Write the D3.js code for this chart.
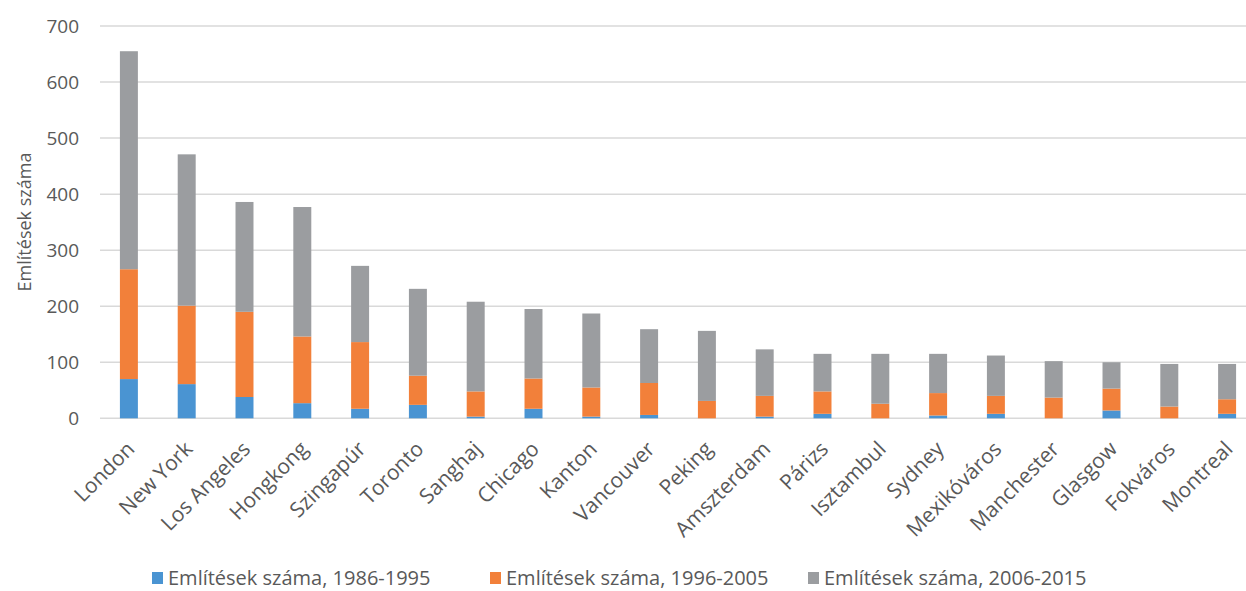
<!DOCTYPE html>
<html>
<head>
<meta charset="utf-8">
<script src="https://cdn.jsdelivr.net/npm/d3@7"></script>
<style>
  html, body { margin: 0; padding: 0; background: #fff; overflow: hidden; }
  svg { display: block; }
  text { font-family: "Open Sans", "Noto Sans", sans-serif; fill: #595959; }
</style>
</head>
<body>
<svg id="chart" width="1246" height="591"></svg>
<script>
const cities = ["London","New York","Los Angeles","Hongkong","Szingapúr","Toronto","Sanghaj","Chicago","Kanton","Vancouver","Peking","Amszterdam","Párizs","Isztambul","Sydney","Mexikóváros","Manchester","Glasgow","Fokváros","Montreal"];
const s1986 = [70, 61, 38, 27, 17, 24, 3, 17, 3, 6, 0, 3, 8, 0, 5, 8, 0, 14, 0, 8];
const s1996 = [196, 140, 152, 119, 119, 52, 45, 54, 52, 57, 31, 37, 40, 26, 40, 32, 37, 39, 21, 26];
const s2006 = [389, 270, 196, 231, 136, 155, 160, 124, 132, 96, 125, 83, 67, 89, 70, 72, 65, 47, 76, 63];
const seriesNames = ["Említések száma, 1986-1995", "Említések száma, 1996-2005", "Említések száma, 2006-2015"];
const seriesColors = ["#4A94D2", "#F2803A", "#9B9DA0"];
const yTicks = [0, 100, 200, 300, 400, 500, 600, 700];
const yTitle = "Említések száma";

(function () {
const svg = d3.select("#chart");
const pLeft = 100, pRight = 1256, pTop = 26, pBottom = 418.3;

const x = d3.scaleBand().domain(cities).range([pLeft, pRight]).paddingInner(0.689).paddingOuter(0.3445);
const y = d3.scaleLinear().domain([0, 700]).range([pBottom, pTop]);

// gridlines
svg.append("g").selectAll("line").data(yTicks).join("line")
  .attr("x1", pLeft).attr("x2", 1246)
  .attr("y1", d => y(d)).attr("y2", d => y(d))
  .attr("stroke", "#D9D9D9").attr("stroke-width", 1.5);

// y axis labels
const yAxis = d3.axisLeft(y).tickValues(yTicks).tickSize(0).tickPadding(0);
const gy = svg.append("g").attr("transform", `translate(79,0)`).call(yAxis);
gy.select(".domain").remove();
gy.selectAll("text").style("font-size", "19px").style("fill", "#595959")
  .style("font-family", "'Open Sans', sans-serif").attr("dy", "0.34em");

// y title
svg.append("text")
  .attr("transform", `translate(31,222) rotate(-90)`)
  .attr("text-anchor", "middle")
  .style("font-size", "18px")
  .text(yTitle);

// stacked data
const rows = cities.map((c, i) => ({ city: c, a: s1986[i], b: s1996[i], c: s2006[i] }));
const stacked = d3.stack().keys(["a", "b", "c"])(rows);

svg.append("g").selectAll("g").data(stacked).join("g")
  .attr("fill", (d, i) => seriesColors[i])
  .selectAll("rect").data(d => d).join("rect")
  .attr("x", d => x(d.data.city))
  .attr("width", x.bandwidth())
  .attr("y", d => y(d[1]))
  .attr("height", d => Math.max(0, y(d[0]) - y(d[1])));

// x axis labels
const xAxis = d3.axisBottom(x).tickSize(0).tickPadding(0);
const gx = svg.append("g").attr("transform", `translate(0,${pBottom})`).call(xAxis);
gx.select(".domain").remove();
gx.selectAll("text")
  .style("font-size", "21px").style("fill", "#595959")
  .style("font-family", "'Open Sans', sans-serif")
  .attr("text-anchor", "end")
  .attr("dy", "0")
  .attr("y", 0)
  .attr("transform", "translate(7,32) rotate(-45)");

// legend
const legendX = [152, 490, 808];
const lg = svg.append("g").selectAll("g").data(seriesNames).join("g")
  .attr("transform", (d, i) => `translate(${legendX[i]},578)`);
lg.append("rect").attr("x", 0).attr("y", -6).attr("width", 11).attr("height", 12)
  .attr("fill", (d, i) => seriesColors[i]);
lg.append("text").attr("x", 16).attr("y", 0).attr("dy", "0.35em")
  .style("font-size", "20px").text(d => d);
})();
</script>
</body>
</html>
